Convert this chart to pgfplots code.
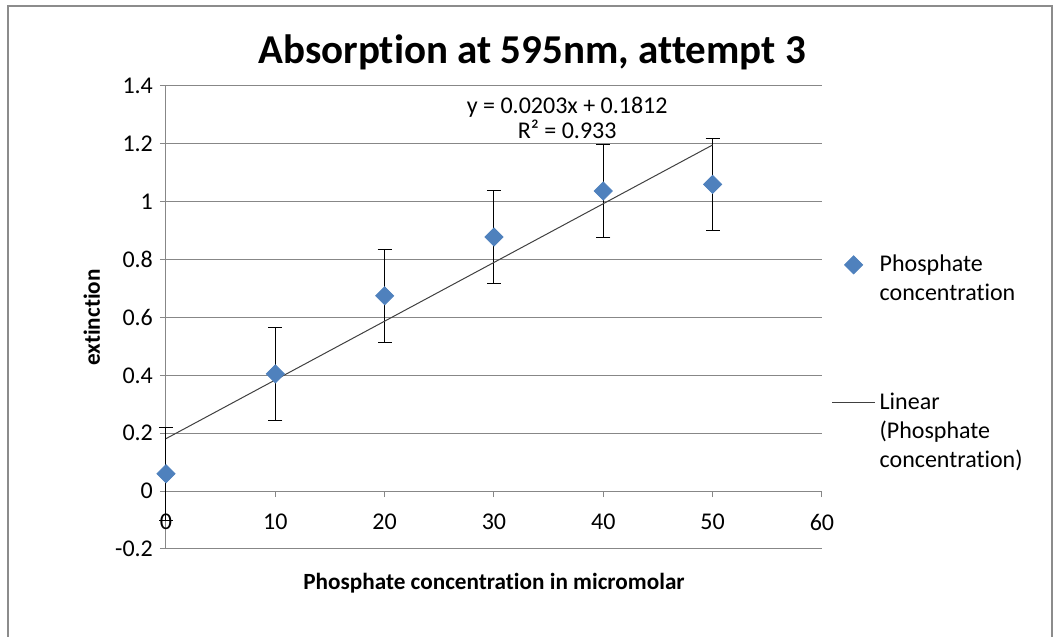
\documentclass[border=0pt]{standalone}
\usepackage{fontspec}
\setmainfont{Carlito}[Ligatures=NoCommon]
\usepackage{pgfplots}
\pgfplotsset{compat=1.18}
\definecolor{xlblue}{HTML}{4F81BD}
\definecolor{gridgray}{HTML}{878787}
\definecolor{framegray}{HTML}{8C8C8C}
% legend images raised to the first line of their text
\pgfplotsset{
  marklegend/.style={legend image code/.code={%
    \draw[mark repeat=2,mark phase=2,##1] plot coordinates {(0pt,7.25pt) (10.75pt,7.25pt) (21.5pt,7.25pt)};}},
  trendlegend/.style={legend image code/.code={%
    \draw[##1] (0pt,14.5pt) -- (21.5pt,14.5pt);}},
}

\begin{document}
\begin{tikzpicture}
\begin{axis}[
  scale only axis, width=328pt, height=231.5pt,
  xmin=0, xmax=60, ymin=-0.2, ymax=1.4,
  xtick={0,10,20,30,40,50,60},
  ytick={-0.2,0,0.2,0.4,0.6,0.8,1,1.2,1.4},
  axis y line=left, axis x line=middle,
  axis line style={gridgray, line width=0.5pt, -},
  hide obscured x ticks=false, hide obscured y ticks=false,
  tick align=outside, major tick length=3pt,
  tick style={gridgray, line width=0.5pt},
  ymajorgrids, grid style={gridgray, line width=0.5pt},
  /pgf/number format/assume math mode=true,
  ticklabel style={font=\fontsize{12}{14}\selectfont},
  xticklabel style={yshift=-5pt},
  yticklabel style={/pgf/number format/fixed},
  clip=false,
  title={Absorption at 595nm, attempt 3},
  title style={at={(rel axis cs:0.558,1.047)}, anchor=center, font=\fontsize{20.5}{24}\bfseries},
  xlabel={Phosphate concentration in micromolar},
  x label style={at={(rel axis cs:0.5,-0.073)}, anchor=center, font=\fontsize{11.6}{13}\bfseries},
  ylabel={extinction},
  y label style={at={(rel axis cs:-0.113,0.5)}, anchor=center, rotate=0, font=\fontsize{11.6}{13}\bfseries},
  legend cell align=left,
  legend style={at={(rel axis cs:1.005,0.653)}, anchor=north west, draw=none, fill=none,
    row sep=40.5pt, font=\fontsize{12}{14.5}\selectfont, nodes={align=left}},
]
\addplot[only marks, mark=square*, mark size=3.2pt,
  mark options={rotate=45, fill=xlblue, draw=xlblue}, marklegend,
  error bars/.cd, y dir=both, y explicit,
  error bar style={black, line width=0.5pt},
  error mark options={black, rotate=90, mark size=3.5pt, line width=0.5pt}]
  coordinates {
    (0,0.06) +- (0,0.16)
    (10,0.405) +- (0,0.16)
    (20,0.675) +- (0,0.16)
    (30,0.878) +- (0,0.16)
    (40,1.037) +- (0,0.16)
    (50,1.06) +- (0,0.16)
  };
\addlegendentry{Phosphate\\concentration}
\addplot[no marks, color=black!75, line width=0.5pt, trendlegend]
  coordinates {(0,0.1812) (50,1.1962)};
\addlegendentry{Linear\\(Phosphate\\concentration)}
\node[align=center, font=\fontsize{12}{12.5}\selectfont] at (axis cs:36.7,1.29)
  {y = 0.0203x + 0.1812\\R² = 0.933};
\coordinate (bl) at (rel axis cs:-0.2530,-0.1901);
\coordinate (tr) at (rel axis cs:1.3537,1.1857);
\draw[framegray, line width=1pt] (rel axis cs:-0.2409,-0.1901) -- (rel axis cs:-0.2409,1.1728)
  -- (rel axis cs:1.3506,1.1728) -- (rel axis cs:1.3506,-0.1901);
\end{axis}
\path (bl) rectangle (tr);
\end{tikzpicture}
\end{document}
